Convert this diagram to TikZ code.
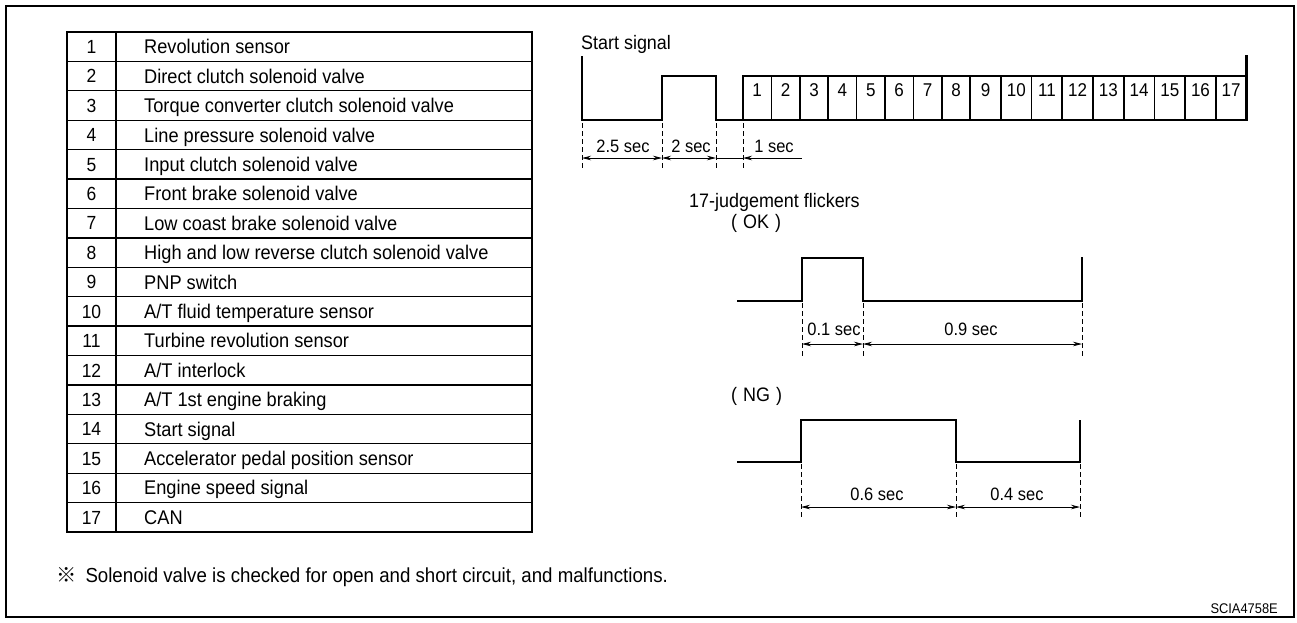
\documentclass[tikz,border=0pt]{standalone}
\usepackage{fontspec}
\setmainfont[FakeStretch=0.92]{Liberation Sans}
\newfontfamily\cjkfont{Noto Sans CJK JP}
\usetikzlibrary{arrows.meta}
\begin{document}
\begin{tikzpicture}[x=1pt,y=-1pt,
  frame/.style={line width=2.3pt},
  tbl/.style={line width=1.3pt},
  wave/.style={line width=2.5pt, line join=miter},
  boxline/.style={line width=1.7pt},
  dashv/.style={line width=0.9pt, dash pattern=on 5pt off 3pt},
  dimline/.style={line width=0.8pt},
  dimtips/.style={dimline, {Stealth[length=9pt,width=4.5pt]}-{Stealth[length=9pt,width=4.5pt]}},
  lefttip/.style={dimline, {Stealth[length=9pt,width=4.5pt]}-},
  cell/.style={font=\fontsize{19.8}{22}\selectfont, anchor=base west, inner sep=0pt},
  num/.style={font=\fontsize{19}{22}\selectfont, anchor=base, inner sep=0pt},
  lbl/.style={font=\fontsize{17.9}{20}\selectfont, anchor=base, inner sep=0pt},
  ttl/.style={font=\fontsize{19.5}{22}\selectfont, anchor=base west, inner sep=0pt},
  boxnum/.style={font=\fontsize{18.5}{20}\selectfont, anchor=base, inner sep=0pt},
]
\useasboundingbox (0,0) rectangle (1297,622);
% outer frame
\draw[frame] (6,6) rectangle (1294,617);

% ---------- table ----------
\def\rh{29.41}
\draw[tbl] (67,32) rectangle (532,532);
\draw[tbl] (116,32) -- (116,532);
\foreach \k in {1,...,16} { \draw[tbl] (67,{32+\k*\rh}) -- (532,{32+\k*\rh}); }
\foreach \k in {1,...,17} { \node[num] (n\k) at (91.5,{32+(\k-0.5)*\rh+6.8}) {\k}; }
\newcommand{\rowtext}[2]{\node[cell] (t#1) at (144,{32+(#1-0.5)*\rh+7.1}) {#2};}
\rowtext{1}{Revolution sensor}
\rowtext{2}{Direct clutch solenoid valve}
\rowtext{3}{Torque converter clutch solenoid valve}
\rowtext{4}{Line pressure solenoid valve}
\rowtext{5}{Input clutch solenoid valve}
\rowtext{6}{Front brake solenoid valve}
\rowtext{7}{Low coast brake solenoid valve}
\rowtext{8}{High and low reverse clutch solenoid valve}
\rowtext{9}{PNP switch}
\rowtext{10}{A/T fluid temperature sensor}
\rowtext{11}{Turbine revolution sensor}
\rowtext{12}{A/T interlock}
\rowtext{13}{A/T 1st engine braking}
\rowtext{14}{Start signal}
\rowtext{15}{Accelerator pedal position sensor}
\rowtext{16}{Engine speed signal}
\rowtext{17}{CAN}

% ---------- start signal ----------
\node[ttl] (sstitle) at (581,49) {Start signal};
\coordinate (a0) at (582,56);
\coordinate (a1) at (582,120);
\coordinate (a2) at (662,120);
\coordinate (a3) at (662,76);
\coordinate (a4) at (716,76);
\coordinate (a5) at (716,120);
\coordinate (a6) at (743,120);
\coordinate (a7) at (743,76);
\coordinate (a8) at (1246.5,76);
\coordinate (a9) at (1246.5,55);
\coordinate (a10) at (1246.5,120);
\draw[wave] (a0) -- (a1) -- (a2) -- (a3) -- (a4) -- (a5) -- (a6) -- (a7) -- (a8) -- (a9);
\draw[wave] (a6) -- (a10) -- (a8);
% numbered boxes: left/right edge of each box
\foreach \xl/\xr [count=\k] in {743/771.4, 771.4/799.8, 799.8/828.2, 828.2/856.6, 856.6/885,
   885/913.4, 913.4/941.8, 941.8/970.2, 970.2/1000.9, 1000.9/1031.6, 1031.6/1062.3,
   1062.3/1093, 1093/1123.7, 1123.7/1154.4, 1154.4/1185.1, 1185.1/1215.8, 1215.8/1246.5} {
  \node[boxnum] (b\k) at ({(\xl+\xr)/2},96) {\k};
}
\foreach \x in {771.4, 799.8, 828.2, 856.6, 885, 913.4, 941.8, 970.2, 1000.9, 1031.6,
   1062.3, 1093, 1123.7, 1154.4, 1185.1, 1215.8} {
  \draw[boxline] (\x,76) -- (\x,120);
}
% dimensions
\foreach \x/\n in {582/d0,662/d1,716/d2,743/d3} {
  \coordinate (\n t) at (\x,123);
  \coordinate (\n b) at (\x,170);
  \coordinate (\n m) at (\x,158);
  \draw[dashv] (\n t) -- (\n b);
}
\coordinate (d4m) at (802,158);
\draw[dimtips] (d0m) -- (d1m);
\draw[dimtips] (d1m) -- (d2m);
\draw[dimline] (d2m) -- (d3m);
\draw[lefttip] (d3m) -- (d4m);
\node[lbl] (l25) at (623,152.5) {2.5 sec};
\node[lbl] (l2) at (691,152.5) {2 sec};
\node[lbl] (l1) at (774,152.5) {1 sec};

% ---------- 17-judgement flickers ----------
\node[ttl] (jt) at (689,207.5) {17-judgement flickers};
\node[ttl] (ok) at (731,228.5) {(\hspace{6pt}OK\hspace{6pt})};
\coordinate (o0) at (737,301);
\coordinate (o1) at (802,301);
\coordinate (o2) at (802,258);
\coordinate (o3) at (863,258);
\coordinate (o4) at (863,301);
\coordinate (o5) at (1082,301);
\coordinate (o6) at (1082,257);
\draw[wave] (o0) -- (o1) -- (o2) -- (o3) -- (o4) -- (o5) -- (o6);
\foreach \x/\n in {802/e0,863/e1,1082/e2} {
  \coordinate (\n t) at (\x,303);
  \coordinate (\n b) at (\x,357);
  \coordinate (\n m) at (\x,344);
  \draw[dashv] (\n t) -- (\n b);
}
\draw[dimtips] (e0m) -- (e1m);
\draw[dimtips] (e1m) -- (e2m);
\node[lbl] (l01) at (834,335.5) {0.1 sec};
\node[lbl] (l09) at (971,335.5) {0.9 sec};

% NG
\node[ttl] (ng) at (731,401.5) {(\hspace{6pt}NG\hspace{6pt})};
\coordinate (g0) at (737,462);
\coordinate (g1) at (801,462);
\coordinate (g2) at (801,420);
\coordinate (g3) at (956,420);
\coordinate (g4) at (956,462);
\coordinate (g5) at (1080,462);
\coordinate (g6) at (1080,420);
\draw[wave] (g0) -- (g1) -- (g2) -- (g3) -- (g4) -- (g5) -- (g6);
\foreach \x/\n in {801/f0,956/f1,1080/f2} {
  \coordinate (\n t) at (\x,464);
  \coordinate (\n b) at (\x,519);
  \coordinate (\n m) at (\x,507);
  \draw[dashv] (\n t) -- (\n b);
}
\draw[dimtips] (f0m) -- (f1m);
\draw[dimtips] (f1m) -- (f2m);
\node[lbl] (l06) at (877,500.5) {0.6 sec};
\node[lbl] (l04) at (1017,500.5) {0.4 sec};

% footnote
\node[font=\fontsize{20.3}{22}\selectfont, anchor=base west, inner sep=0pt] (fn) at (56,582) {{\cjkfont ※}\hspace{9pt}Solenoid valve is checked for open and short circuit, and malfunctions.};
\node[font=\fontsize{14}{15}\selectfont, anchor=base east, inner sep=0pt] (code) at (1278,613) {SCIA4758E};
\end{tikzpicture}
\end{document}
